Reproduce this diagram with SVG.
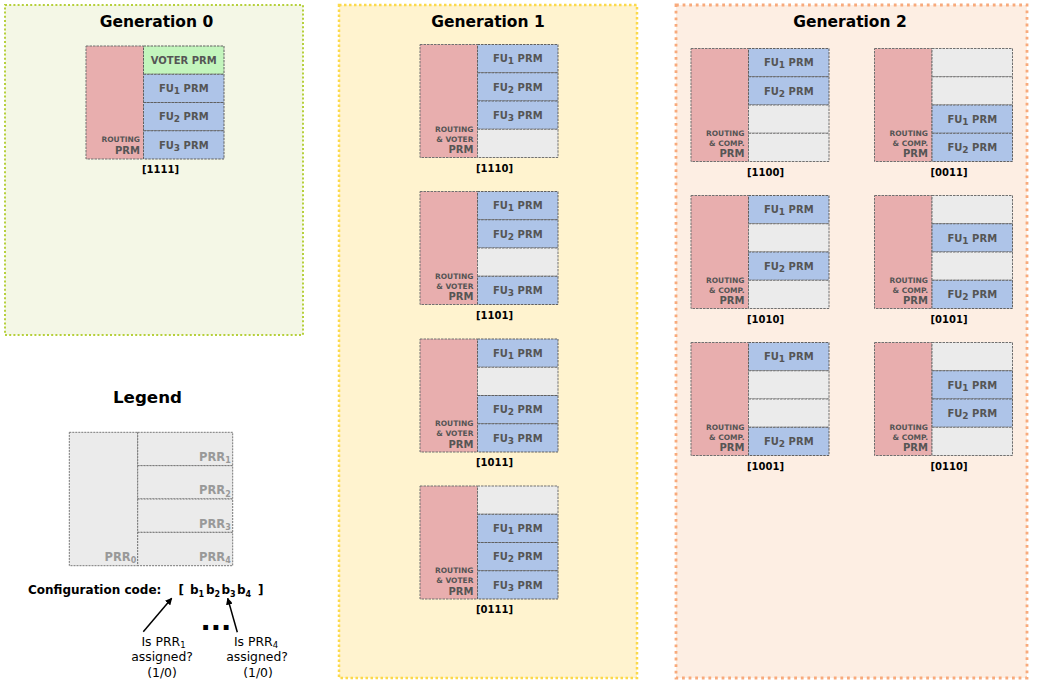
<svg xmlns="http://www.w3.org/2000/svg" width="1038" height="680" viewBox="0 0 1038 680">
<defs>
<style>
text{font-family:"DejaVu Sans","Liberation Sans",sans-serif;}
.title{font-size:15.5px;font-weight:bold;fill:#000;text-anchor:middle;}
.rt{fill:#e8aeae;stroke:#707070;stroke-width:1;stroke-dasharray:2.5,1;}
.fu{fill:#aec4e8;stroke:#606060;stroke-width:1;stroke-dasharray:2.5,1;}
.vo{fill:#c3f5bd;stroke:#606060;stroke-width:1;stroke-dasharray:2.5,1;}
.em{fill:#ebebeb;stroke:#707070;stroke-width:1;stroke-dasharray:2.5,1;}
.ct{font-size:10px;font-weight:bold;fill:#555;text-anchor:middle;}
.rs{font-size:7.5px;font-weight:bold;fill:#555;text-anchor:end;}
.rp{font-size:10px;font-weight:bold;fill:#555;text-anchor:end;}
.lb{font-size:10px;font-weight:bold;fill:#000;text-anchor:middle;}
.lg{fill:#ebebeb;stroke:#777;stroke-width:1;stroke-dasharray:2,1;}
.pr{font-size:11.5px;font-weight:bold;fill:#999;text-anchor:end;}
.q{font-size:12.4px;fill:#000;text-anchor:middle;}
.cc{font-size:12px;font-weight:bold;fill:#000;}
</style>
<marker id="ah" viewBox="0 0 10 10" refX="9" refY="5" markerWidth="7" markerHeight="7" orient="auto" markerUnits="userSpaceOnUse"><path d="M0,0 L10,5 L0,10 z" fill="#000"/></marker>
</defs>

<g id="panel-gen0">
<rect x="5" y="5" width="298" height="330" fill="#f4f7e6" stroke="#b6d03c" stroke-width="2" stroke-dasharray="2,2.2"/>
<text class="title" x="156.5" y="27">Generation 0</text>
</g>
<g id="panel-gen1">
<rect x="339" y="5" width="298" height="673" fill="#fff3cf" stroke="#fcd94a" stroke-width="2.5" stroke-dasharray="2.5,2.5"/>
<text class="title" x="488" y="27">Generation 1</text>
</g>
<g id="panel-gen2">
<rect x="676" y="5" width="351" height="673" fill="#fdeee3" stroke="#f8aa7c" stroke-width="2.8" stroke-dasharray="2.8,3.8"/>
<text class="title" x="850" y="27">Generation 2</text>
</g>

<!-- Generation 0 -->
<g id="n1111g0" transform="translate(86,46)">
<rect class="rt" x="0" y="0" width="57.5" height="113"/>
<rect class="vo" x="57.5" y="0" width="80.5" height="28.25"/>
<rect class="fu" x="57.5" y="28.25" width="80.5" height="28.25"/>
<rect class="fu" x="57.5" y="56.5" width="80.5" height="28.25"/>
<rect class="fu" x="57.5" y="84.75" width="80.5" height="28.25"/>
<text class="ct" x="97.75" y="17.7">VOTER PRM</text>
<text class="ct" x="97.75" y="46">FU<tspan font-size="9" dy="2">1</tspan><tspan dy="-2"> PRM</tspan></text>
<text class="ct" x="97.75" y="74.2">FU<tspan font-size="9" dy="2">2</tspan><tspan dy="-2"> PRM</tspan></text>
<text class="ct" x="97.75" y="102.5">FU<tspan font-size="9" dy="2">3</tspan><tspan dy="-2"> PRM</tspan></text>
<text class="rs" x="54" y="96">ROUTING</text>
<text class="rp" x="54" y="108">PRM</text>
<text class="lb" x="74.5" y="127">[1111]</text>
</g>

<!-- Generation 1 -->
<g id="n1110" transform="translate(420,44.5)">
<rect class="rt" x="0" y="0" width="57.5" height="113"/>
<rect class="fu" x="57.5" y="0" width="80.5" height="28.25"/>
<rect class="fu" x="57.5" y="28.25" width="80.5" height="28.25"/>
<rect class="fu" x="57.5" y="56.5" width="80.5" height="28.25"/>
<rect class="em" x="57.5" y="84.75" width="80.5" height="28.25"/>
<text class="ct" x="97.75" y="17.7">FU<tspan font-size="9" dy="2">1</tspan><tspan dy="-2"> PRM</tspan></text>
<text class="ct" x="97.75" y="46">FU<tspan font-size="9" dy="2">2</tspan><tspan dy="-2"> PRM</tspan></text>
<text class="ct" x="97.75" y="74.2">FU<tspan font-size="9" dy="2">3</tspan><tspan dy="-2"> PRM</tspan></text>
<text class="rs" x="53.5" y="87">ROUTING</text>
<text class="rs" x="53.5" y="97">&amp; VOTER</text>
<text class="rp" x="53.5" y="108.5">PRM</text>
<text class="lb" x="74.5" y="127">[1110]</text>
</g>
<g id="n1101" transform="translate(420,191.5)">
<rect class="rt" x="0" y="0" width="57.5" height="113"/>
<rect class="fu" x="57.5" y="0" width="80.5" height="28.25"/>
<rect class="fu" x="57.5" y="28.25" width="80.5" height="28.25"/>
<rect class="em" x="57.5" y="56.5" width="80.5" height="28.25"/>
<rect class="fu" x="57.5" y="84.75" width="80.5" height="28.25"/>
<text class="ct" x="97.75" y="17.7">FU<tspan font-size="9" dy="2">1</tspan><tspan dy="-2"> PRM</tspan></text>
<text class="ct" x="97.75" y="46">FU<tspan font-size="9" dy="2">2</tspan><tspan dy="-2"> PRM</tspan></text>
<text class="ct" x="97.75" y="102.5">FU<tspan font-size="9" dy="2">3</tspan><tspan dy="-2"> PRM</tspan></text>
<text class="rs" x="53.5" y="87">ROUTING</text>
<text class="rs" x="53.5" y="97">&amp; VOTER</text>
<text class="rp" x="53.5" y="108.5">PRM</text>
<text class="lb" x="74.5" y="127">[1101]</text>
</g>
<g id="n1011" transform="translate(420,339)">
<rect class="rt" x="0" y="0" width="57.5" height="113"/>
<rect class="fu" x="57.5" y="0" width="80.5" height="28.25"/>
<rect class="em" x="57.5" y="28.25" width="80.5" height="28.25"/>
<rect class="fu" x="57.5" y="56.5" width="80.5" height="28.25"/>
<rect class="fu" x="57.5" y="84.75" width="80.5" height="28.25"/>
<text class="ct" x="97.75" y="17.7">FU<tspan font-size="9" dy="2">1</tspan><tspan dy="-2"> PRM</tspan></text>
<text class="ct" x="97.75" y="74.2">FU<tspan font-size="9" dy="2">2</tspan><tspan dy="-2"> PRM</tspan></text>
<text class="ct" x="97.75" y="102.5">FU<tspan font-size="9" dy="2">3</tspan><tspan dy="-2"> PRM</tspan></text>
<text class="rs" x="53.5" y="87">ROUTING</text>
<text class="rs" x="53.5" y="97">&amp; VOTER</text>
<text class="rp" x="53.5" y="108.5">PRM</text>
<text class="lb" x="74.5" y="127">[1011]</text>
</g>
<g id="n0111" transform="translate(420,486)">
<rect class="rt" x="0" y="0" width="57.5" height="113"/>
<rect class="em" x="57.5" y="0" width="80.5" height="28.25"/>
<rect class="fu" x="57.5" y="28.25" width="80.5" height="28.25"/>
<rect class="fu" x="57.5" y="56.5" width="80.5" height="28.25"/>
<rect class="fu" x="57.5" y="84.75" width="80.5" height="28.25"/>
<text class="ct" x="97.75" y="46">FU<tspan font-size="9" dy="2">1</tspan><tspan dy="-2"> PRM</tspan></text>
<text class="ct" x="97.75" y="74.2">FU<tspan font-size="9" dy="2">2</tspan><tspan dy="-2"> PRM</tspan></text>
<text class="ct" x="97.75" y="102.5">FU<tspan font-size="9" dy="2">3</tspan><tspan dy="-2"> PRM</tspan></text>
<text class="rs" x="53.5" y="87">ROUTING</text>
<text class="rs" x="53.5" y="97">&amp; VOTER</text>
<text class="rp" x="53.5" y="108.5">PRM</text>
<text class="lb" x="74.5" y="127">[0111]</text>
</g>

<!-- Generation 2 -->
<g id="n1100" transform="translate(691,48.5)">
<rect class="rt" x="0" y="0" width="57.5" height="113"/>
<rect class="fu" x="57.5" y="0" width="80.5" height="28.25"/>
<rect class="fu" x="57.5" y="28.25" width="80.5" height="28.25"/>
<rect class="em" x="57.5" y="56.5" width="80.5" height="28.25"/>
<rect class="em" x="57.5" y="84.75" width="80.5" height="28.25"/>
<text class="ct" x="97.75" y="17.7">FU<tspan font-size="9" dy="2">1</tspan><tspan dy="-2"> PRM</tspan></text>
<text class="ct" x="97.75" y="46">FU<tspan font-size="9" dy="2">2</tspan><tspan dy="-2"> PRM</tspan></text>
<text class="rs" x="53.5" y="87">ROUTING</text>
<text class="rs" x="53.5" y="97">&amp; COMP.</text>
<text class="rp" x="53.5" y="108.5">PRM</text>
<text class="lb" x="74.5" y="127">[1100]</text>
</g>
<g id="n1010" transform="translate(691,195.5)">
<rect class="rt" x="0" y="0" width="57.5" height="113"/>
<rect class="fu" x="57.5" y="0" width="80.5" height="28.25"/>
<rect class="em" x="57.5" y="28.25" width="80.5" height="28.25"/>
<rect class="fu" x="57.5" y="56.5" width="80.5" height="28.25"/>
<rect class="em" x="57.5" y="84.75" width="80.5" height="28.25"/>
<text class="ct" x="97.75" y="17.7">FU<tspan font-size="9" dy="2">1</tspan><tspan dy="-2"> PRM</tspan></text>
<text class="ct" x="97.75" y="74.2">FU<tspan font-size="9" dy="2">2</tspan><tspan dy="-2"> PRM</tspan></text>
<text class="rs" x="53.5" y="87">ROUTING</text>
<text class="rs" x="53.5" y="97">&amp; COMP.</text>
<text class="rp" x="53.5" y="108.5">PRM</text>
<text class="lb" x="74.5" y="127">[1010]</text>
</g>
<g id="n1001" transform="translate(691,342.5)">
<rect class="rt" x="0" y="0" width="57.5" height="113"/>
<rect class="fu" x="57.5" y="0" width="80.5" height="28.25"/>
<rect class="em" x="57.5" y="28.25" width="80.5" height="28.25"/>
<rect class="em" x="57.5" y="56.5" width="80.5" height="28.25"/>
<rect class="fu" x="57.5" y="84.75" width="80.5" height="28.25"/>
<text class="ct" x="97.75" y="17.7">FU<tspan font-size="9" dy="2">1</tspan><tspan dy="-2"> PRM</tspan></text>
<text class="ct" x="97.75" y="102.5">FU<tspan font-size="9" dy="2">2</tspan><tspan dy="-2"> PRM</tspan></text>
<text class="rs" x="53.5" y="87">ROUTING</text>
<text class="rs" x="53.5" y="97">&amp; COMP.</text>
<text class="rp" x="53.5" y="108.5">PRM</text>
<text class="lb" x="74.5" y="127">[1001]</text>
</g>
<g id="n0011" transform="translate(874.5,48.5)">
<rect class="rt" x="0" y="0" width="57.5" height="113"/>
<rect class="em" x="57.5" y="0" width="80.5" height="28.25"/>
<rect class="em" x="57.5" y="28.25" width="80.5" height="28.25"/>
<rect class="fu" x="57.5" y="56.5" width="80.5" height="28.25"/>
<rect class="fu" x="57.5" y="84.75" width="80.5" height="28.25"/>
<text class="ct" x="97.75" y="74.2">FU<tspan font-size="9" dy="2">1</tspan><tspan dy="-2"> PRM</tspan></text>
<text class="ct" x="97.75" y="102.5">FU<tspan font-size="9" dy="2">2</tspan><tspan dy="-2"> PRM</tspan></text>
<text class="rs" x="53.5" y="87">ROUTING</text>
<text class="rs" x="53.5" y="97">&amp; COMP.</text>
<text class="rp" x="53.5" y="108.5">PRM</text>
<text class="lb" x="74.5" y="127">[0011]</text>
</g>
<g id="n0101" transform="translate(874.5,195.5)">
<rect class="rt" x="0" y="0" width="57.5" height="113"/>
<rect class="em" x="57.5" y="0" width="80.5" height="28.25"/>
<rect class="fu" x="57.5" y="28.25" width="80.5" height="28.25"/>
<rect class="em" x="57.5" y="56.5" width="80.5" height="28.25"/>
<rect class="fu" x="57.5" y="84.75" width="80.5" height="28.25"/>
<text class="ct" x="97.75" y="46">FU<tspan font-size="9" dy="2">1</tspan><tspan dy="-2"> PRM</tspan></text>
<text class="ct" x="97.75" y="102.5">FU<tspan font-size="9" dy="2">2</tspan><tspan dy="-2"> PRM</tspan></text>
<text class="rs" x="53.5" y="87">ROUTING</text>
<text class="rs" x="53.5" y="97">&amp; COMP.</text>
<text class="rp" x="53.5" y="108.5">PRM</text>
<text class="lb" x="74.5" y="127">[0101]</text>
</g>
<g id="n0110" transform="translate(874.5,342.5)">
<rect class="rt" x="0" y="0" width="57.5" height="113"/>
<rect class="em" x="57.5" y="0" width="80.5" height="28.25"/>
<rect class="fu" x="57.5" y="28.25" width="80.5" height="28.25"/>
<rect class="fu" x="57.5" y="56.5" width="80.5" height="28.25"/>
<rect class="em" x="57.5" y="84.75" width="80.5" height="28.25"/>
<text class="ct" x="97.75" y="46">FU<tspan font-size="9" dy="2">1</tspan><tspan dy="-2"> PRM</tspan></text>
<text class="ct" x="97.75" y="74.2">FU<tspan font-size="9" dy="2">2</tspan><tspan dy="-2"> PRM</tspan></text>
<text class="rs" x="53.5" y="87">ROUTING</text>
<text class="rs" x="53.5" y="97">&amp; COMP.</text>
<text class="rp" x="53.5" y="108.5">PRM</text>
<text class="lb" x="74.5" y="127">[0110]</text>
</g>

<!-- Legend -->
<g id="legend">
<text x="147.5" y="403.3" font-size="16.7" font-weight="bold" text-anchor="middle" fill="#000">Legend</text>
<rect class="lg" x="69.3" y="432.3" width="68.4" height="133.4"/>
<rect class="lg" x="137.7" y="432.3" width="95" height="33.35"/>
<rect class="lg" x="137.7" y="465.65" width="95" height="33.35"/>
<rect class="lg" x="137.7" y="499" width="95" height="33.35"/>
<rect class="lg" x="137.7" y="532.35" width="95" height="33.35"/>
<text class="pr" x="230.8" y="460.8">PRR<tspan font-size="8" dy="2.5">1</tspan></text>
<text class="pr" x="230.8" y="494.1">PRR<tspan font-size="8" dy="2.5">2</tspan></text>
<text class="pr" x="230.8" y="527.5">PRR<tspan font-size="8" dy="2.5">3</tspan></text>
<text class="pr" x="230.8" y="560.8">PRR<tspan font-size="8" dy="2.5">4</tspan></text>
<text class="pr" x="136.3" y="560.8">PRR<tspan font-size="8" dy="2.5">0</tspan></text>
</g>

<g id="config-code">
<text class="cc" x="28" y="594">Configuration code:</text>
<text class="cc" x="178.5" y="594">[</text>
<text class="cc" x="190" y="594">b<tspan font-size="8" dy="2.5">1</tspan></text>
<text class="cc" x="206" y="594">b<tspan font-size="8" dy="2.5">2</tspan></text>
<text class="cc" x="221.5" y="594">b<tspan font-size="8" dy="2.5">3</tspan></text>
<text class="cc" x="237" y="594">b<tspan font-size="8" dy="2.5">4</tspan></text>
<text class="cc" x="258" y="594">]</text>
<text x="216" y="629.5" font-size="27" font-weight="bold" text-anchor="middle" fill="#000">...</text>
</g>

<g id="q1">
<text class="q" x="163.5" y="645.5">Is PRR<tspan font-size="8.5" dy="2">1</tspan></text>
<text class="q" x="162" y="661">assigned?</text>
<text class="q" x="162" y="676.5">(1/0)</text>
</g>
<g id="q4">
<text class="q" x="256" y="645.5">Is PRR<tspan font-size="8.5" dy="2">4</tspan></text>
<text class="q" x="257" y="661">assigned?</text>
<text class="q" x="258" y="676.5">(1/0)</text>
</g>

<g id="connectors" stroke="#000" stroke-width="1.5" fill="none">
<line x1="143.3" y1="631.7" x2="171.7" y2="598.3" marker-end="url(#ah)"/>
<line x1="237.3" y1="632.3" x2="227.7" y2="598.3" marker-end="url(#ah)"/>
</g>
</svg>
